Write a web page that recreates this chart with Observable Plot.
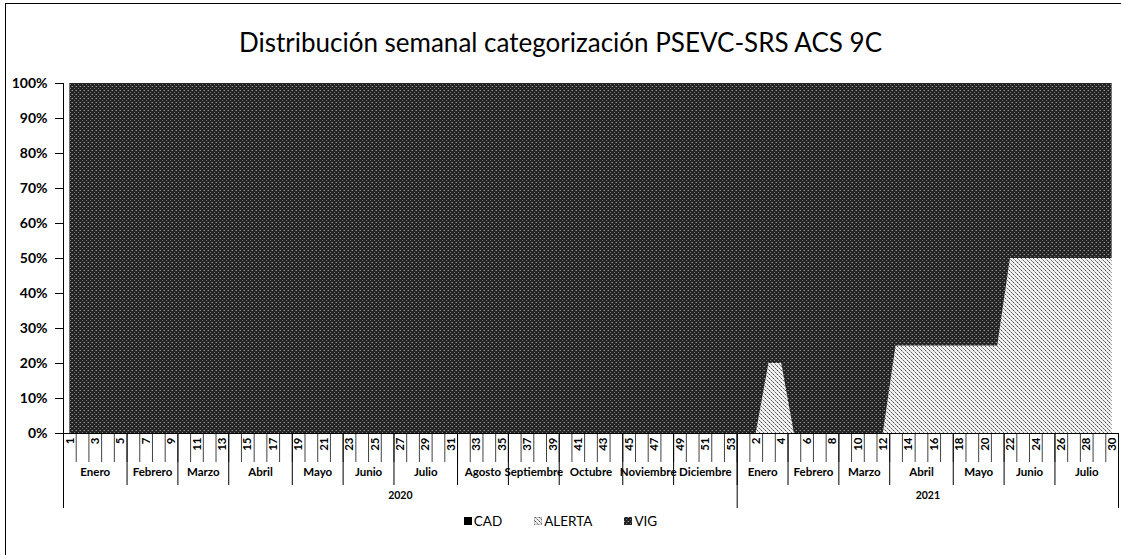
<!DOCTYPE html>
<html>
<head>
<meta charset="utf-8">
<script src="https://cdn.jsdelivr.net/npm/d3@7"></script>
<script src="https://cdn.jsdelivr.net/npm/@observablehq/plot@0.6"></script>
<style>
  html, body { margin: 0; padding: 0; background: #fff; }
  body { font-family: Lato, "Open Sans", "Liberation Sans", sans-serif; color: #000; }
  #wrap { position: relative; width: 1121px; height: 555px; overflow: hidden; }
  #border { position: absolute; left: 5px; top: 3px; width: 1200px; height: 700px; border-left: 1.5px solid #000; border-top: 1.5px solid #000; pointer-events: none; }
  #title { height: 70px; box-sizing: border-box; padding-top: 27px; font-size: 26px; line-height: 30px; text-align: center; }
  #chart { height: 440px; }
  #legend { display: flex; justify-content: center; align-items: center; gap: 32px; height: 22px; font-size: 13.5px; }
  .item { display: flex; align-items: center; gap: 2px; }
  .sw { width: 8px; height: 8px; display: block; }
</style>
</head>
<body>
<svg width="0" height="0" style="position:absolute">
  <defs>
    <pattern id="pVig" width="4" height="4" patternUnits="userSpaceOnUse">
      <rect width="4" height="4" fill="#232323"/>
      <rect x="0" y="0" width="1" height="1" fill="#9a9a9a"/>
      <rect x="2" y="2" width="1" height="1" fill="#7a7a7a"/>
      <rect x="3" y="0" width="1" height="1" fill="#555"/>
    </pattern>
    <pattern id="pAlerta" width="4" height="4" patternUnits="userSpaceOnUse">
      <rect width="4" height="4" fill="#f0f0f0"/>
      <rect x="1" y="0" width="1" height="1" fill="#444"/>
      <rect x="3" y="2" width="1" height="1" fill="#666"/>
      <rect x="0" y="3" width="1" height="1" fill="#888"/>
      <rect x="2" y="1" width="1" height="1" fill="#aaa"/>
    </pattern>
  </defs>
</svg>
<div id="wrap">
  <div id="border"></div>
  <div id="title">Distribución semanal categorización PSEVC-SRS ACS 9C</div>
  <div id="chart"></div>
  <div id="legend"></div>
</div>
<script>
// ---- Data ----
const series = ["CAD", "ALERTA", "VIG"];
const years = ["2020", "2021"];
const weeks2020 = [1,2,3,4,5,6,7,8,9,10,11,12,13,14,15,16,17,18,19,20,21,22,23,24,25,26,27,28,29,30,31,32,33,34,35,36,37,38,39,40,41,42,43,44,45,46,47,48,49,50,51,52,53];
const weeks2021 = [1,2,3,4,5,6,7,8,9,10,11,12,13,14,15,16,17,18,19,20,21,22,23,24,25,26,27,28,29,30];

// month groups: [name, first week, last week]
const months2020 = [["Enero",1,5],["Febrero",6,9],["Marzo",10,13],["Abril",14,18],["Mayo",19,22],["Junio",23,26],["Julio",27,31],["Agosto",32,35],["Septiembre",36,39],["Octubre",40,44],["Noviembre",45,48],["Diciembre",49,53]];
const months2021 = [["Enero",1,4],["Febrero",5,8],["Marzo",9,12],["Abril",13,17],["Mayo",18,21],["Junio",22,25],["Julio",26,30]];

// values in % (2020 weeks 1-53, then 2021 weeks 1-30)
const cadValues = [
  0,0,0,0,0,0,0,0,0,0,0,0,0,0,0,0,0,0,0,0,0,0,0,0,0,0,0,0,0,0,0,0,0,0,0,0,0,0,0,0,0,0,0,0,0,0,0,0,0,0,0,0,0,
  0,0,0,0,0,0,0,0,0,0,0,0,0,0,0,0,0,0,0,0,0,0,0,0,0,0,0,0,0,0
];
const alertaValues = [
  0,0,0,0,0,0,0,0,0,0,0,0,0,0,0,0,0,0,0,0,0,0,0,0,0,0,0,0,0,0,0,0,0,0,0,0,0,0,0,0,0,0,0,0,0,0,0,0,0,0,0,0,0,
  0,0,20,20,0,0,0,0,0,0,0,0,25,25,25,25,25,25,25,25,25,50,50,50,50,50,50,50,50,50
];
const vigValues = [
  100,100,100,100,100,100,100,100,100,100,100,100,100,100,100,100,100,100,100,100,100,100,100,100,100,100,100,100,100,100,100,100,100,100,100,100,100,100,100,100,100,100,100,100,100,100,100,100,100,100,100,100,100,
  100,100,80,80,100,100,100,100,100,100,100,100,75,75,75,75,75,75,75,75,75,50,50,50,50,50,50,50,50,50
];
const yTicks = [0,10,20,30,40,50,60,70,80,90,100];

// ---- Build tables ----
const n2020 = weeks2020.length, n2021 = weeks2021.length, nAll = n2020 + n2021;
const valuesBySerie = {CAD: cadValues, ALERTA: alertaValues, VIG: vigValues};
const rows = [];
for (const s of series) valuesBySerie[s].forEach((v, i) => rows.push({cat: i + 1, serie: s, value: v}));

const labelCats = [], labelText = new Map();
weeks2020.forEach((w, i) => { if (w % 2 === 1) { labelCats.push(i + 1); labelText.set(i + 1, String(w)); } });
weeks2021.forEach((w, i) => { if (w % 2 === 0) { labelCats.push(n2020 + i + 1); labelText.set(n2020 + i + 1, String(w)); } });

const catBounds = d3.range(0, nAll + 1).map(k => k + 0.5);
const monthRows = [
  ...months2020.map(([name, a, b]) => ({name, a, b})),
  ...months2021.map(([name, a, b]) => ({name, a: a + n2020, b: b + n2020}))
].map(d => ({...d, mid: (d.a + d.b) / 2}));
const monthBounds = monthRows.map(d => d.b + 0.5);
const yearRows = [
  {name: years[0], mid: (1 + n2020) / 2},
  {name: years[1], mid: (n2020 + 1 + nAll) / 2}
];
const yearBounds = [0.5, n2020 + 0.5, nAll + 0.5];

const plot = Plot.plot({
  width: 1121,
  height: 440,
  marginLeft: 63,
  marginRight: 3,
  marginTop: 13,
  marginBottom: 77,
  style: {fontFamily: "Lato, 'Open Sans', sans-serif", background: "transparent"},
  x: {domain: [0.5, nAll + 0.5], label: null},
  y: {domain: [0, 100], label: null},
  color: {domain: series, range: ["#000", "url(#pAlerta)", "url(#pVig)"]},
  marks: [
    Plot.areaY(rows, {x: "cat", y: "value", z: "serie", fill: "serie"}),
    Plot.ruleY([0], {stroke: "#000"}),
    Plot.ruleX([0.5], {stroke: "#000"}),
    Plot.axisY({ticks: yTicks, tickFormat: d => d + "%", tickSize: 8, tickPadding: 8, fontSize: 14, fontWeight: "bold", label: null, stroke: "#000"}),
    Plot.axisX({ticks: catBounds, tickSize: 29, fill: "none", stroke: "#000", strokeOpacity: 0.75, label: null}),
    Plot.axisX({ticks: monthBounds, tickSize: 52, fill: "none", stroke: "#000", label: null}),
    Plot.axisX({ticks: yearBounds, tickSize: 75, fill: "none", stroke: "#000", label: null}),
    Plot.axisX({ticks: labelCats, tickFormat: d => labelText.get(d), tickSize: 0, tickPadding: 4, tickRotate: -90, fontSize: 11.5, fontWeight: "bold", label: null}),
    Plot.text(monthRows, {x: "mid", text: "name", frameAnchor: "bottom", dy: 42, fontSize: 11.5, fontWeight: "bold"}),
    Plot.text(yearRows, {x: "mid", text: "name", frameAnchor: "bottom", dy: 65, fontSize: 10.5, fontWeight: "bold"})
  ]
});
document.getElementById("chart").appendChild(plot);

// ---- Legend ----
const fills = {CAD: "#000", ALERTA: "url(#pAlerta)", VIG: "url(#pVig)"};
const legend = d3.select("#legend");
for (const s of series) {
  const it = legend.append("div").attr("class", "item");
  it.append("svg").attr("class", "sw").attr("width", 8).attr("height", 8)
    .append("rect").attr("width", 8).attr("height", 8).attr("fill", fills[s]).attr("stroke", s === "ALERTA" ? "#666" : "none").attr("stroke-width", 0.6);
  it.append("span").text(s);
}
</script>
</body>
</html>
